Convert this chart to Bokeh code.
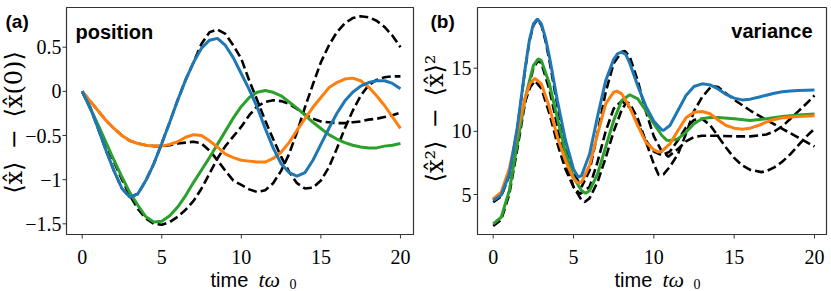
import math
from bokeh.plotting import figure
from bokeh.layouts import row
from bokeh.models import Label, Range1d
from bokeh.core.properties import value
from bokeh.embed import file_html
from bokeh.resources import INLINE

BLUE = "#1f77b4"
ORANGE = "#ff7f0e"
GREEN = "#2ca02c"

# ---------------- panel (a): position ----------------
t_a = [0, 0.5, 1, 1.5, 2, 2.5, 3, 3.5, 4, 4.5, 5, 5.5, 6, 6.5, 7, 7.5, 8, 8.5, 9, 9.5,
       10, 10.5, 11, 11.5, 12, 12.5, 13, 13.5, 14, 14.5, 15, 15.5, 16, 16.5, 17, 17.5,
       18, 18.5, 19, 19.5, 20]
pos_blue = [0, -0.18, -0.42, -0.67, -0.90, -1.10, -1.20, -1.16, -1.01, -0.82, -0.59, -0.35,
            -0.10, 0.13, 0.33, 0.49, 0.58, 0.60, 0.52, 0.38, 0.20, 0.02, -0.18, -0.42, -0.64,
            -0.82, -0.92, -0.96, -0.92, -0.78, -0.60, -0.42, -0.25, -0.11, -0.01, 0.06, 0.10,
            0.12, 0.12, 0.09, 0.03]
pos_green = [0, -0.19, -0.38, -0.58, -0.78, -0.97, -1.15, -1.29, -1.42, -1.48, -1.47, -1.41,
             -1.31, -1.18, -1.03, -0.89, -0.75, -0.60, -0.45, -0.30, -0.17, -0.07, -0.01, 0.01,
             -0.01, -0.05, -0.12, -0.19, -0.27, -0.35, -0.42, -0.49, -0.54, -0.58, -0.61, -0.63,
             -0.64, -0.64, -0.62, -0.61, -0.59]
pos_orange = [0, -0.11, -0.22, -0.33, -0.42, -0.50, -0.56, -0.59, -0.61, -0.62, -0.62, -0.60,
              -0.57, -0.52, -0.49, -0.50, -0.56, -0.63, -0.71, -0.75, -0.78, -0.79, -0.80, -0.80,
              -0.76, -0.69, -0.58, -0.44, -0.31, -0.18, -0.07, 0.04, 0.10, 0.14, 0.15, 0.12,
              0.05, -0.05, -0.16, -0.29, -0.42]
pos_dash1 = [0, -0.18, -0.42, -0.67, -0.90, -1.10, -1.20, -1.16, -1.01, -0.82, -0.59, -0.35,
             -0.10, 0.13, 0.33, 0.54, 0.67, 0.70, 0.65, 0.52, 0.37, 0.12, -0.10, -0.33, -0.54,
             -0.74, -0.91, -1.04, -1.10, -1.09, -1.01, -0.86, -0.65, -0.42, -0.22, -0.05, 0.07,
             0.13, 0.16, 0.17, 0.17]
pos_dash2 = [0, -0.11, -0.22, -0.33, -0.42, -0.50, -0.56, -0.59, -0.61, -0.62, -0.62, -0.61,
             -0.59, -0.58, -0.57, -0.59, -0.67, -0.78, -0.90, -1.01, -1.06, -1.11, -1.14, -1.12,
             -1.04, -0.90, -0.71, -0.46, -0.18, 0.08, 0.33, 0.52, 0.67, 0.77, 0.83, 0.85, 0.84,
             0.80, 0.73, 0.63, 0.50]
pos_dash3 = [0, -0.19, -0.39, -0.60, -0.80, -1.00, -1.18, -1.33, -1.44, -1.50, -1.51, -1.48,
             -1.42, -1.34, -1.24, -1.10, -0.93, -0.76, -0.62, -0.51, -0.40, -0.27, -0.17, -0.12,
             -0.10, -0.11, -0.14, -0.20, -0.26, -0.31, -0.34, -0.35, -0.36, -0.36, -0.35, -0.34,
             -0.32, -0.31, -0.29, -0.27, -0.24]
pos_yticks = [-1.5, -1, -0.5, 0, 0.5]
pos_yticklabels = ["\u22121.5", "\u22121", "\u22120.5", "0", "0.5"]

# ---------------- panel (b): variance ----------------
t_var_blue = [0, 0.5, 1, 1.5, 2, 2.25, 2.5, 2.75, 3, 3.25, 3.5, 4, 4.5, 5, 5.3, 5.5, 6, 6.5, 7,
              7.5, 7.75, 8, 8.25, 8.5, 9, 9.5, 10, 10.5, 10.6, 11, 11.5, 12, 12.5, 13, 13.5, 14,
              14.5, 15, 15.5, 16, 16.5, 17, 17.5, 18, 18.5, 19, 19.5, 20]
var_blue = [4.52, 4.95, 6.6, 10.3, 15.1, 17.2, 18.5, 18.9, 18.5, 17.4, 15.9, 12.4, 9.3, 7.0,
            6.37, 6.5, 8.2, 11.2, 14.0, 15.7, 16.15, 16.27, 16.1, 15.4, 13.6, 12.0, 10.8, 10.1,
            10.08, 10.46, 11.65, 12.84, 13.55, 13.76, 13.68, 13.36, 12.92, 12.63, 12.49, 12.55,
            12.7, 12.86, 13.02, 13.13, 13.2, 13.23, 13.26, 13.28]
t_var_green = [0, 0.5, 1, 1.5, 2, 2.5, 2.8, 3, 3.5, 4, 4.5, 5, 5.5, 5.75, 6, 6.5, 7, 7.5, 8,
               8.5, 9, 9.5, 10, 10.5, 10.8, 11, 11.5, 12, 12.5, 13, 13.5, 14, 15, 16, 17, 18,
               19, 20]
var_green = [2.68, 3.2, 5.3, 9.0, 12.7, 15.2, 15.74, 15.6, 13.76, 11.0, 8.35, 6.37, 5.3, 5.1,
             5.3, 6.64, 8.75, 10.86, 12.44, 12.9, 12.57, 11.65, 10.6, 9.67, 9.3, 9.27, 9.4,
             9.93, 10.6, 11.0, 11.1, 11.1, 11.0, 10.86, 11.0, 11.17, 11.3, 11.38]
t_var_orange = [0, 0.5, 1, 1.5, 2, 2.3, 2.6, 3, 3.5, 4, 4.5, 5, 5.3, 5.5, 6, 6.5, 7, 7.5, 7.7,
                8, 8.5, 9, 9.5, 10, 10.3, 10.5, 11, 11.5, 12, 12.5, 13, 13.5, 14, 14.5, 15,
                15.5, 16, 16.5, 17, 17.5, 18, 19, 20]
var_orange = [4.66, 5.18, 7.03, 9.93, 12.7, 13.8, 14.2, 13.76, 11.9, 9.54, 7.69, 6.24, 5.9,
              5.98, 7.3, 9.8, 12.18, 13.1, 13.18, 12.97, 11.9, 10.46, 9.14, 8.54, 8.35, 8.43,
              9.0, 10.07, 11.07, 11.52, 11.57, 11.39, 10.9, 10.46, 10.25, 10.17, 10.25, 10.46,
              10.73, 10.94, 11.07, 11.17, 11.23]
t_var_dash1 = [0, 0.5, 1, 1.5, 2, 2.25, 2.5, 2.75, 3, 3.25, 3.5, 4, 4.5, 5, 5.5, 6, 6.5, 7, 7.5,
               8, 8.2, 8.5, 9, 9.5, 10, 10.5, 10.9, 11.5, 12, 12.5, 13, 14, 15, 16, 17, 17.5,
               18, 18.5, 19, 19.5, 20]
var_dash1 = [4.4, 4.85, 6.5, 10.2, 15.0, 17.1, 18.4, 18.85, 18.4, 17.2, 15.6, 12.0, 8.9, 6.7,
             5.6, 6.9, 9.9, 13.1, 15.4, 16.3, 16.35, 15.9, 14.0, 11.6, 9.6, 8.4, 8.0, 8.6, 9.2,
             9.55, 9.65, 9.65, 9.6, 9.6, 9.75, 10.0, 10.4, 11.0, 11.6, 12.2, 12.84]
t_var_dash2 = [0, 0.5, 1, 1.5, 2, 2.5, 2.8, 3, 3.5, 4, 4.5, 5, 5.5, 5.7, 6, 6.5, 7, 7.5, 8, 8.3,
               8.5, 9, 9.5, 10, 10.3, 10.6, 11, 11.5, 12, 12.5, 13, 13.6, 14, 14.5, 15, 16, 17,
               18, 19, 20]
var_dash2 = [2.5, 3.0, 5.0, 8.6, 12.4, 15.0, 15.6, 15.4, 13.3, 10.4, 7.6, 5.6, 4.55, 4.4, 4.7,
             6.0, 7.9, 10.0, 11.7, 12.3, 12.2, 11.0, 9.2, 7.4, 6.55, 6.6, 7.2, 8.2, 9.8, 11.6,
             12.7, 13.6, 13.5, 13.0, 12.5, 11.65, 10.9, 10.2, 9.5, 8.8]
t_var_dash3 = [0, 0.5, 1, 1.5, 2, 2.3, 2.6, 3, 3.5, 4, 4.5, 5, 5.4, 6, 6.5, 7, 7.5, 8, 8.5, 9,
               9.5, 10, 10.5, 11, 11.5, 12, 12.5, 13, 13.5, 14, 14.5, 15, 15.5, 16, 16.7, 17,
               17.5, 18, 18.5, 19, 19.5, 20]
var_dash3 = [4.6, 5.1, 6.9, 9.7, 12.4, 13.5, 14.0, 13.4, 11.4, 9.0, 7.0, 5.6, 5.05, 5.6, 7.6,
             10.0, 11.8, 12.4, 11.9, 10.6, 9.3, 8.4, 8.1, 8.4, 9.3, 10.3, 10.9, 11.0, 10.5, 9.6,
             8.7, 7.9, 7.3, 6.95, 6.77, 6.85, 7.15, 7.6, 8.2, 8.9, 9.6, 10.2]
var_yticks = [5, 10, 15]
var_yticklabels = ["5", "10", "15"]
x_ticks = [0, 5, 10, 15, 20]
x_ticklabels = ["0", "5", "10", "15", "20"]

# axis limits of the two panels (data values at the panel box edges)
xlim_a = (-0.986, 20.82)
ylim_a = (-1.621, 0.950)
xlim_b = (-0.977, 20.747)
ylim_b = (1.833, 19.806)

FRAME = "#333333"
TICKFONT = "Liberation Serif"
H = 291


class Panel:
    """A figure whose frame fills the canvas; the framed panel box sits at `box` (px)."""

    def __init__(self, width, box, xlim, ylim):
        self.box = box
        l, r, t, b = box
        self.sx = (r - l) / (xlim[1] - xlim[0])
        self.sy = (b - t) / (ylim[1] - ylim[0])
        self.x0 = xlim[0] - l / self.sx
        x1 = xlim[1] + (width - r) / self.sx
        self.y1 = ylim[1] + t / self.sy
        y0 = ylim[0] - (H - b) / self.sy
        self.xlim, self.ylim = xlim, ylim
        self.p = figure(width=width, height=H, x_range=Range1d(self.x0, x1),
                        y_range=Range1d(y0, self.y1), x_axis_location=None,
                        y_axis_location=None, min_border=0, output_backend="svg",
                        toolbar_location=None)
        self.p.outline_line_color = None
        self.p.grid.visible = False

    def X(self, px):
        return self.x0 + px / self.sx

    def Y(self, py):
        return self.y1 - py / self.sy

    def axes(self, xt, xtl, yt, ytl, xlab_base, ylab_gap):
        p = self.p
        l, r, t, b = self.box
        p.quad(left=[self.xlim[0]], right=[self.xlim[1]], bottom=[self.ylim[0]],
               top=[self.ylim[1]], fill_color=None, line_color=FRAME, line_width=1.2)
        n = len(xt)
        p.segment(x0=xt, x1=xt, y0=[self.ylim[0]] * n, y1=[self.Y(b + 4)] * n,
                  line_color=FRAME, line_width=1)
        m = len(yt)
        p.segment(x0=[self.xlim[0]] * m, x1=[self.X(l - 4)] * m, y0=yt, y1=yt,
                  line_color=FRAME, line_width=1)
        p.text(x=xt, y=[self.Y(xlab_base)] * n, text=xtl, text_align="center",
               text_baseline="alphabetic", text_font=value(TICKFONT),
               text_font_size=value("20px"), text_color="black")
        p.text(x=[self.X(l - ylab_gap)] * m, y=yt, text=ytl, text_align="right",
               text_baseline="middle", text_font=value(TICKFONT),
               text_font_size=value("20px"), text_color="black")

    def label(self, px, py, text, font="Liberation Sans", size="20px", style_="normal",
              align="left", baseline="alphabetic", angle=0.0):
        self.p.add_layout(Label(x=self.X(px), y=self.Y(py), text=text, text_font=font,
                                text_font_size=size, text_font_style=style_,
                                text_align=align, text_baseline=baseline, angle=angle,
                                text_color="black"))


# ---- panel (a): canvas 417 px wide, box 66..413 x 7..234
A = Panel(417, (66, 413, 7, 234), xlim_a, ylim_a)
A.axes(x_ticks, x_ticklabels, pos_yticks, pos_yticklabels, 256.5, 5)
pa = A.p
for ys in (pos_dash1, pos_dash2, pos_dash3):
    pa.line(t_a, ys, line_color="black", line_width=2.6, line_dash="9 4")
pa.line(t_a, pos_green, line_color=GREEN, line_width=3)
pa.line(t_a, pos_orange, line_color=ORANGE, line_width=3)
pa.line(t_a, pos_blue, line_color=BLUE, line_width=3)

A.label(5, 20.5, "(a)", style_="bold", size="19px")
A.label(75, 31.5, "position", style_="bold", size="20px")
A.label(13, 122, "\u27e8x\u0302\u27e9\u2002\u2212\u2002\u27e8x\u0302(0)\u27e9",
        font="DejaVu Serif", size="24px", align="center", baseline="middle",
        angle=math.pi / 2)
A.label(210, 279, "time", size="20px")
A.label(258, 279, "t\u03c9", font="Liberation Serif", style_="italic", size="22px")
A.label(289, 283.5, "0", font="Liberation Serif", size="14px")

# ---- panel (b): canvas 414 px wide, box 60..409 x 7..234
B = Panel(414, (60, 409, 7, 234), xlim_b, ylim_b)
B.axes(x_ticks, x_ticklabels, var_yticks, var_yticklabels, 256.5, 6)
pb = B.p
pb.line(t_var_dash1, var_dash1, line_color="black", line_width=2.6, line_dash="9 4")
pb.line(t_var_dash2, var_dash2, line_color="black", line_width=2.6, line_dash="9 4")
pb.line(t_var_dash3, var_dash3, line_color="black", line_width=2.6, line_dash="9 4")
pb.line(t_var_green, var_green, line_color=GREEN, line_width=3)
pb.line(t_var_orange, var_orange, line_color=ORANGE, line_width=3)
pb.line(t_var_blue, var_blue, line_color=BLUE, line_width=3)

B.label(13, 20.5, "(b)", style_="bold", size="19px")
B.label(395, 30, "variance", style_="bold", size="20px", align="right")
B.label(17, 118, "\u27e8x\u0302\u00b2\u27e9\u2002\u2212\u2002\u27e8x\u0302\u27e9\u00b2",
        font="DejaVu Serif", size="24px", align="center", baseline="middle",
        angle=math.pi / 2)
B.label(197, 279, "time", size="20px")
B.label(245, 279, "t\u03c9", font="Liberation Serif", style_="italic", size="22px")
B.label(276, 283.5, "0", font="Liberation Serif", size="14px")

layout = row(pa, pb)
open("out.html", "w").write(file_html(layout, INLINE))
